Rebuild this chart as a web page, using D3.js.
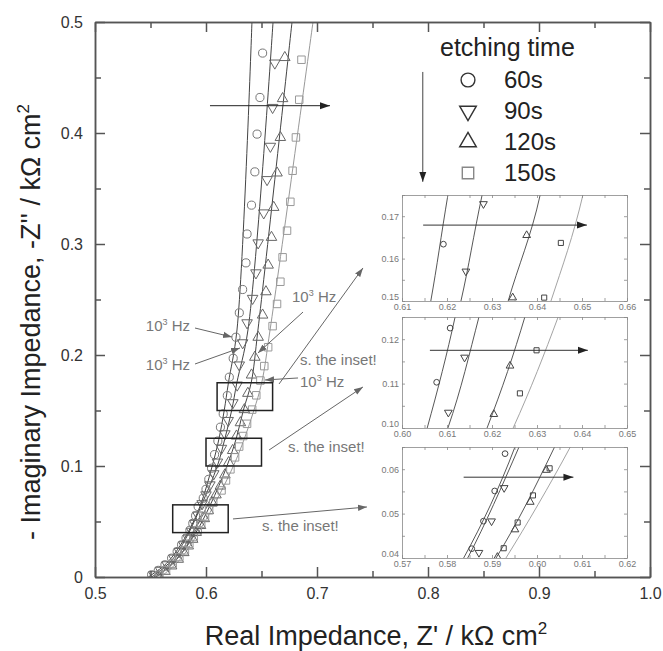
<!DOCTYPE html>
<html>
<head>
<meta charset="utf-8">
<script src="https://cdn.jsdelivr.net/npm/d3@7"></script>
<style>
  body { margin: 0; background: #fff; }
  text { font-family: "Liberation Sans", Arial, sans-serif; }
</style>
</head>
<body>
<div id="chart"></div>
<script>
// etching times
const seriesNames = ["60s", "90s", "120s", "150s"];

// measured points [Z', -Z''] in kOhm cm2
const pts60 = [[0.651,0.472],[0.6486,0.432],[0.646,0.399],[0.644,0.365],[0.641,0.335],[0.637,0.309],[0.636,0.283],[0.633,0.259],[0.630,0.238],[0.627,0.216],[0.6245,0.197],[0.621,0.180],[0.6192,0.1634],[0.6155,0.147],[0.613,0.135],[0.6107,0.1225],[0.6077,0.1103],[0.605,0.098],[0.6025,0.088],[0.600,0.079],[0.5975,0.071],[0.5929,0.0635],[0.5906,0.0551],[0.5881,0.0483],[0.5855,0.0421],[0.582,0.035],[0.578,0.029],[0.574,0.023],[0.569,0.017],[0.563,0.011],[0.557,0.006],[0.551,0.002]];
const pts90 = [[0.662,0.463],[0.660,0.423],[0.658,0.388],[0.655,0.358],[0.652,0.328],[0.647,0.301],[0.645,0.274],[0.642,0.251],[0.637,0.229],[0.633,0.211],[0.630,0.191],[0.6281,0.1729],[0.6242,0.157],[0.620,0.141],[0.617,0.129],[0.6139,0.1159],[0.6103,0.1035],[0.607,0.093],[0.6035,0.083],[0.600,0.074],[0.5965,0.066],[0.5927,0.0558],[0.5899,0.0483],[0.5871,0.0412],[0.584,0.035],[0.580,0.029],[0.576,0.023],[0.571,0.017],[0.565,0.011],[0.559,0.006],[0.553,0.002]];
const pts120 = [[0.671,0.468],[0.669,0.431],[0.667,0.396],[0.664,0.364],[0.661,0.333],[0.659,0.306],[0.656,0.281],[0.654,0.257],[0.651,0.236],[0.647,0.216],[0.644,0.198],[0.641,0.182],[0.6377,0.1655],[0.6346,0.1508],[0.631,0.139],[0.6275,0.127],[0.624,0.114],[0.6204,0.1031],[0.617,0.092],[0.613,0.082],[0.609,0.074],[0.6055,0.067],[0.6021,0.0598],[0.5985,0.0526],[0.5951,0.0464],[0.5912,0.0402],[0.588,0.034],[0.584,0.028],[0.580,0.022],[0.575,0.016],[0.569,0.010],[0.563,0.005],[0.557,0.001]];
const pts150 = [[0.686,0.466],[0.684,0.430],[0.681,0.396],[0.678,0.366],[0.676,0.338],[0.673,0.312],[0.669,0.288],[0.667,0.266],[0.664,0.246],[0.660,0.226],[0.656,0.207],[0.6525,0.190],[0.649,0.177],[0.6453,0.1637],[0.6416,0.1508],[0.637,0.138],[0.6335,0.127],[0.6299,0.1175],[0.6262,0.1078],[0.622,0.097],[0.618,0.087],[0.614,0.078],[0.6065,0.067],[0.6028,0.0602],[0.5991,0.0541],[0.5957,0.048],[0.5926,0.0422],[0.589,0.036],[0.585,0.030],[0.581,0.024],[0.576,0.018],[0.570,0.012],[0.564,0.006],[0.558,0.002]];

// fitted curves: -Z'' levels and Z' of each fit
const fitY = [0, 0.01, 0.02, 0.04, 0.065, 0.10, 0.125, 0.15, 0.175, 0.2225, 0.5];
const fit60 = [0.548, 0.562, 0.571, 0.5837, 0.5951, 0.6056, 0.6118, 0.6164, 0.6202, 0.6279, 0.6414];
const fit90 = [0.551, 0.564, 0.573, 0.5846, 0.5960, 0.6102, 0.6171, 0.6231, 0.6278, 0.6378, 0.6604];
const fit120 = [0.555, 0.568, 0.577, 0.5909, 0.6039, 0.6189, 0.6273, 0.6336, 0.6407, 0.6468, 0.6775];
const fit150 = [0.559, 0.571, 0.580, 0.5931, 0.6074, 0.6247, 0.6347, 0.6431, 0.6502, 0.6577, 0.6964];

// axis ticks
const xTicks = [0.5, 0.6, 0.7, 0.8, 0.9, 1.0];
const xMinor = [0.55, 0.65, 0.75, 0.85, 0.95];
const yTicks = [0, 0.1, 0.2, 0.3, 0.4, 0.5];
const yMinor = [0.05, 0.15, 0.25, 0.35, 0.45];

const allPts = [pts60, pts90, pts120, pts150];
const allFits = [fit60, fit90, fit120, fit150];
const shapes = ["circle", "down", "up", "square"];
const markColor = ["#777", "#666", "#666", "#999"];
const lineColor = ["#444", "#444", "#444", "#999"];

const W = 663, H = 651;
const MARGIN = { left: 95, top: 22, right: 13, bottom: 74 };

const x = d3.scaleLinear().domain([0.5, 1.0]).range([MARGIN.left, W - MARGIN.right]);
const y = d3.scaleLinear().domain([0, 0.5]).range([H - MARGIN.bottom, MARGIN.top]);

const svg = d3.select("#chart").append("svg").attr("width", W).attr("height", H);
const defs = svg.append("defs");

function addHead(id, color, size) {
    defs.append("marker").attr("id", id)
        .attr("viewBox", "0 0 10 10").attr("refX", 10).attr("refY", 5)
        .attr("markerWidth", size).attr("markerHeight", size)
        .attr("markerUnits", "userSpaceOnUse")
        .attr("orient", "auto")
        .append("path").attr("d", "M0,1.5L10,5L0,8.5Z").attr("fill", color);
}
addHead("headBlack", "#222", 10);
addHead("headGray", "#666", 9);

function symbolPath(kind, size) {
    if (kind === "circle") return d3.symbol(d3.symbolCircle, size)();
    if (kind === "square") return d3.symbol(d3.symbolSquare, size)();
    return d3.symbol(d3.symbolTriangle, size)();
}
function drawMarks(g, data, kind, sx, sy, size, color) {
    g.selectAll(null).data(data).join("path")
        .attr("d", symbolPath(kind, size))
        .attr("transform", d => `translate(${sx(d[0])},${sy(d[1])})` + (kind === "down" ? " rotate(180)" : ""))
        .attr("fill", "none").attr("stroke", color).attr("stroke-width", 1);
}
function drawFits(g, sx, sy, width) {
    const line = d3.line().x(d => sx(d[0])).y(d => sy(d[1])).curve(d3.curveCatmullRom);
    allFits.forEach((f, i) => {
        const pts = f.map((v, j) => [v, fitY[j]]);
        g.append("path").attr("d", line(pts)).attr("fill", "none")
            .attr("stroke", lineColor[i]).attr("stroke-width", width);
    });
}

// ---- main plot ----
defs.append("clipPath").attr("id", "mainClip").append("rect")
    .attr("x", x(0.5)).attr("y", y(0.5)).attr("width", x(1) - x(0.5)).attr("height", y(0) - y(0.5));

const plot = svg.append("g").attr("clip-path", "url(#mainClip)");
drawFits(plot, x, y, 1);
allPts.forEach((p, i) => {
    const size = shapes[i] === "circle" ? 52 : shapes[i] === "square" ? 56 : 48;
    drawMarks(plot.append("g"), p, shapes[i], x, y, size, markColor[i]);
});

// axes
function styleAxis(g) {
    g.selectAll("path, line").attr("stroke", "#555").attr("stroke-width", 1.5);
    g.selectAll("text").attr("font-size", 16).attr("fill", "#333")
        .attr("font-family", "'Liberation Sans', Arial, sans-serif");
}
const fmtY = d => d === 0 ? "0" : d3.format(".1f")(d);
svg.append("g").attr("transform", `translate(0,${y(0)})`)
    .call(d3.axisBottom(x).tickValues(xTicks).tickSizeInner(-10).tickSizeOuter(0).tickPadding(11).tickFormat(d3.format(".1f")))
    .call(styleAxis);
svg.append("g").attr("transform", `translate(0,${y(0)})`)
    .call(d3.axisBottom(x).tickValues(xMinor).tickSizeInner(-6).tickSizeOuter(0).tickFormat(""))
    .call(styleAxis);
svg.append("g").attr("transform", `translate(0,${y(0.5)})`)
    .call(d3.axisTop(x).tickValues(xTicks).tickSizeInner(-10).tickSizeOuter(0).tickFormat(""))
    .call(styleAxis);
svg.append("g").attr("transform", `translate(0,${y(0.5)})`)
    .call(d3.axisTop(x).tickValues(xMinor).tickSizeInner(-6).tickSizeOuter(0).tickFormat(""))
    .call(styleAxis);
svg.append("g").attr("transform", `translate(${x(0.5)},0)`)
    .call(d3.axisLeft(y).tickValues(yTicks).tickSizeInner(-10).tickSizeOuter(0).tickPadding(12).tickFormat(fmtY))
    .call(styleAxis);
svg.append("g").attr("transform", `translate(${x(0.5)},0)`)
    .call(d3.axisLeft(y).tickValues(yMinor).tickSizeInner(-6).tickSizeOuter(0).tickFormat(""))
    .call(styleAxis);
svg.append("g").attr("transform", `translate(${x(1)},0)`)
    .call(d3.axisRight(y).tickValues(yTicks).tickSizeInner(-10).tickSizeOuter(0).tickFormat(""))
    .call(styleAxis);
svg.append("g").attr("transform", `translate(${x(1)},0)`)
    .call(d3.axisRight(y).tickValues(yMinor).tickSizeInner(-6).tickSizeOuter(0).tickFormat(""))
    .call(styleAxis);

// axis titles
const xt = svg.append("text").attr("x", 376).attr("y", 645).attr("text-anchor", "middle")
    .attr("font-size", 27).attr("fill", "#222");
xt.append("tspan").text("Real Impedance, Z' / k\u03A9 cm");
xt.append("tspan").attr("dy", -11).attr("font-size", 17).text("2");

const yt = svg.append("text").attr("transform", "rotate(-90)").attr("x", -322).attr("y", 40)
    .attr("text-anchor", "middle").attr("font-size", 27).attr("fill", "#222");
yt.append("tspan").text("- Imaginary Impedance, -Z'' / k\u03A9 cm");
yt.append("tspan").attr("dy", -11).attr("font-size", 17).text("2");

// ---- arrows & annotations (data coordinates) ----
function arrow(from, to, head, color, width) {
    svg.append("line")
        .attr("x1", x(from[0])).attr("y1", y(from[1]))
        .attr("x2", x(to[0])).attr("y2", y(to[1]))
        .attr("stroke", color).attr("stroke-width", width)
        .attr("marker-end", `url(#${head})`);
}
function hzLabel(pos, anchor) {
    const t = svg.append("text").attr("x", x(pos[0])).attr("y", y(pos[1]))
        .attr("text-anchor", anchor).attr("font-size", 15).attr("fill", "#777");
    t.append("tspan").text("10");
    t.append("tspan").attr("dy", -6).attr("font-size", 9).text("3");
    t.append("tspan").attr("dy", 6).text(" Hz");
}
function note(pos, txt) {
    svg.append("text").attr("x", x(pos[0])).attr("y", y(pos[1]))
        .attr("font-size", 15).attr("fill", "#777").text(txt);
}

arrow([0.6036, 0.4246], [0.7117, 0.4246], "headBlack", "#222", 1);
arrow([0.7953, 0.455], [0.7953, 0.356], "headBlack", "#444", 1);

hzLabel([0.5856, 0.2216], "end");
arrow([0.5901, 0.2243], [0.6234, 0.2162], "headGray", "#666", 1);
hzLabel([0.5856, 0.1865], "end");
arrow([0.5901, 0.1919], [0.6306, 0.2063], "headGray", "#666", 1);
hzLabel([0.6775, 0.2477], "start");
arrow([0.6874, 0.2387], [0.6468, 0.2018], "headGray", "#666", 1);
hzLabel([0.6847, 0.1712], "start");
arrow([0.6829, 0.1793], [0.6532, 0.1775], "headGray", "#666", 1);

note([0.6847, 0.1910], "s. the inset!");
note([0.6739, 0.1126], "s. the inset!");
note([0.6505, 0.0414], "s. the inset!");
arrow([0.6658, 0.1739], [0.7414, 0.2784], "headGray", "#666", 1);
arrow([0.6568, 0.1144], [0.7414, 0.1712], "headGray", "#666", 1);
arrow([0.6243, 0.0523], [0.7450, 0.0631], "headGray", "#666", 1);

// ---- insets ----
const insets = [
    { xDom: [0.61, 0.66], yDom: [0.15, 0.175], top: 195, bottom: 301, arrow: [[0.6147, 0.1679], [0.6511, 0.1679]] },
    { xDom: [0.60, 0.65], yDom: [0.10, 0.125], top: 317, bottom: 428, arrow: [[0.6062, 0.1175], [0.6413, 0.1175]] },
    { xDom: [0.57, 0.62], yDom: [0.04, 0.065], top: 447, bottom: 558, arrow: [[0.5837, 0.0582], [0.6081, 0.0582]] }
];
const INSET_LEFT = 402, INSET_RIGHT = 627;

insets.forEach((ins, k) => {
    // zoom box on the main plot
    svg.append("rect")
        .attr("x", x(ins.xDom[0])).attr("y", y(ins.yDom[1]))
        .attr("width", x(ins.xDom[1]) - x(ins.xDom[0]))
        .attr("height", y(ins.yDom[0]) - y(ins.yDom[1]))
        .attr("fill", "none").attr("stroke", "#222").attr("stroke-width", 1.5);

    const ix = d3.scaleLinear().domain(ins.xDom).range([INSET_LEFT, INSET_RIGHT]);
    const iy = d3.scaleLinear().domain(ins.yDom).range([ins.bottom, ins.top]);
    const g = svg.append("g");
    g.append("rect").attr("x", INSET_LEFT).attr("y", ins.top)
        .attr("width", INSET_RIGHT - INSET_LEFT).attr("height", ins.bottom - ins.top)
        .attr("fill", "#fff");

    defs.append("clipPath").attr("id", "inClip" + k).append("rect")
        .attr("x", INSET_LEFT).attr("y", ins.top)
        .attr("width", INSET_RIGHT - INSET_LEFT).attr("height", ins.bottom - ins.top);
    const inner = g.append("g").attr("clip-path", `url(#inClip${k})`);
    drawFits(inner, ix, iy, 0.9);
    allPts.forEach((p, i) => {
        const sub = p.filter(d => d[0] >= ins.xDom[0] && d[0] <= ins.xDom[1] && d[1] >= ins.yDom[0] && d[1] <= ins.yDom[1]);
        drawMarks(inner.append("g"), sub, shapes[i], ix, iy, 26, "#444");
    });

    const xt = d3.range(0, 6).map(j => ins.xDom[0] + j * 0.01);
    const xm = d3.range(0, 5).map(j => ins.xDom[0] + 0.005 + j * 0.01);
    const yt = d3.range(0, 3).map(j => ins.yDom[0] + j * 0.01);
    const ym = d3.range(0, 3).map(j => ins.yDom[0] + 0.005 + j * 0.01);
    const styleInset = a => {
        a.selectAll("path, line").attr("stroke", "#888").attr("stroke-width", 0.8);
        a.selectAll("text").attr("font-size", 9).attr("fill", "#777")
            .attr("font-family", "'Liberation Sans', Arial, sans-serif");
    };
    g.append("g").attr("transform", `translate(0,${ins.bottom})`)
        .call(d3.axisBottom(ix).tickValues(xt.concat(xm)).tickSizeInner(-3).tickSizeOuter(0).tickPadding(3)
            .tickFormat(d => xt.includes(d) ? d3.format(".2f")(d) : ""))
        .call(styleInset);
    g.append("g").attr("transform", `translate(0,${ins.top})`)
        .call(d3.axisTop(ix).tickValues(xt.concat(xm)).tickSizeInner(-3).tickSizeOuter(0).tickFormat(""))
        .call(styleInset);
    const yAx = g.append("g").attr("transform", `translate(${INSET_LEFT},0)`)
        .call(d3.axisLeft(iy).tickValues(yt.concat(ym)).tickSizeInner(-3).tickSizeOuter(0).tickPadding(3)
            .tickFormat(d => yt.includes(d) ? d3.format(".2f")(d) : ""))
        .call(styleInset);
    // lowest y label sits just above the x labels at the corner
    yAx.selectAll("text").filter(d => d === yt[0]).attr("dy", "-0.2em");
    g.append("g").attr("transform", `translate(${INSET_RIGHT},0)`)
        .call(d3.axisRight(iy).tickValues(yt.concat(ym)).tickSizeInner(-3).tickSizeOuter(0).tickFormat(""))
        .call(styleInset);

    g.append("line")
        .attr("x1", ix(ins.arrow[0][0])).attr("y1", iy(ins.arrow[0][1]))
        .attr("x2", ix(ins.arrow[1][0])).attr("y2", iy(ins.arrow[1][1]))
        .attr("stroke", "#333").attr("stroke-width", 1)
        .attr("marker-end", "url(#headBlack)");
});

// ---- legend ----
const legend = svg.append("g");
legend.append("text").attr("x", 440).attr("y", 56).attr("font-size", 25).attr("fill", "#222").text("etching time");
const legendColor = ["#333", "#333", "#333", "#888"];
const legendSize = [150, 120, 120, 130];
seriesNames.forEach((name, i) => {
    const cy = 80 + i * 31;
    legend.append("path").attr("d", symbolPath(shapes[i], legendSize[i]))
        .attr("transform", `translate(468,${cy})` + (shapes[i] === "down" ? " rotate(180)" : ""))
        .attr("fill", "none").attr("stroke", legendColor[i]).attr("stroke-width", 1.4);
    legend.append("text").attr("x", 504).attr("y", cy + 8).attr("font-size", 24).attr("fill", "#222").text(name);
});
</script>
</body>
</html>
